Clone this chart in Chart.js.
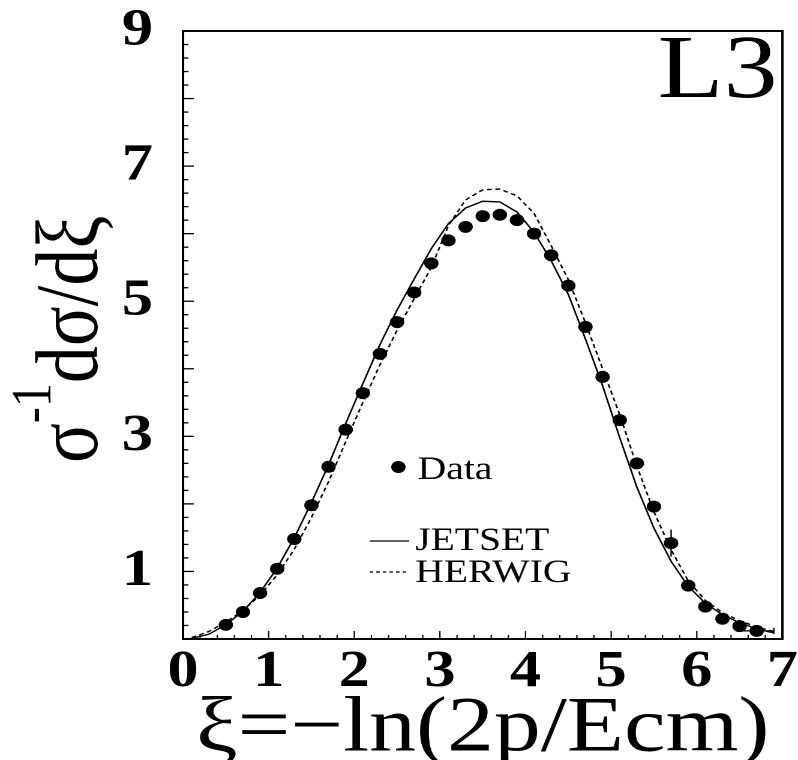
<!DOCTYPE html>
<html>
<head>
<meta charset="utf-8">
<script src="https://cdn.jsdelivr.net/npm/chart.js@4.4.1/dist/chart.umd.min.js"></script>
<style>
  html, body { margin: 0; padding: 0; background: #fff; overflow: hidden; }
  /* the plot is drawn 665 wide and widened to the page width */
  #wrap { width: 665px; height: 760px; transform: scaleX(1.2); transform-origin: 0 0; }
</style>
</head>
<body>
<div id="wrap"><canvas id="xi-chart" width="665" height="760"></canvas></div>
<script>
// measured xi distribution
const dataXi = [0.5, 0.7, 0.9, 1.1, 1.3, 1.5, 1.7, 1.9, 2.1, 2.3, 2.5, 2.7, 2.9, 3.1, 3.3, 3.5,
    3.7, 3.9, 4.1, 4.3, 4.5, 4.7, 4.9, 5.1, 5.3, 5.5, 5.7, 5.9, 6.1, 6.3, 6.5, 6.7];
const dataValues = [0.21, 0.40, 0.68, 1.04, 1.48, 1.98, 2.55, 3.10, 3.64, 4.22, 4.69, 5.13, 5.56, 5.90, 6.10, 6.26,
    6.28, 6.20, 6.00, 5.68, 5.23, 4.62, 3.88, 3.24, 2.60, 1.96, 1.42, 0.79, 0.48, 0.30, 0.19, 0.12];
// errors large enough to show outside the markers
const dataErrY = [0, 0, 0, 0, 0, 0, 0, 0, 0, 0, 0, 0, 0, 0, 0, 0,
    0, 0, 0, 0, 0, 0, 0, 0, 0, 0, 0.2, 0, 0, 0, 0, 0];
const dataErrX = [0, 0, 0, 0, 0, 0, 0, 0, 0, 0, 0, 0, 0, 0, 0, 0,
    0, 0, 0, 0, 0, 0, 0, 0, 0, 0, 0, 0, 0, 0, 0, 0.2];

// Monte Carlo predictions
const modelXi = [0.1, 0.3, 0.5, 0.7, 0.9, 1.1, 1.3, 1.5, 1.7, 1.9, 2.1, 2.3, 2.5, 2.7, 2.9, 3.1, 3.3, 3.5,
    3.7, 3.9, 4.1, 4.3, 4.5, 4.7, 4.9, 5.1, 5.3, 5.5, 5.7, 5.9, 6.1, 6.3, 6.5, 6.7, 6.9];
const jetsetValues = [0.01, 0.07, 0.21, 0.41, 0.69, 1.05, 1.50, 2.02, 2.58, 3.19, 3.78, 4.36, 4.87, 5.33, 5.78, 6.15, 6.38, 6.48,
    6.47, 6.32, 6.02, 5.60, 5.10, 4.44, 3.75, 2.98, 2.25, 1.64, 1.15, 0.78, 0.53, 0.36, 0.24, 0.15, 0.09];
const herwigValues = [0.02, 0.11, 0.25, 0.42, 0.65, 0.95, 1.33, 1.80, 2.33, 2.92, 3.50, 4.06, 4.57, 5.04, 5.50, 6.12, 6.50, 6.65,
    6.66, 6.56, 6.30, 5.82, 5.32, 4.68, 4.00, 3.32, 2.56, 1.88, 1.32, 0.86, 0.57, 0.39, 0.27, 0.18, 0.11];

const xLabels = [0, 1, 2, 3, 4, 5, 6, 7];
const yLabels = [1, 3, 5, 7, 9];

const SERIF = "'Liberation Serif', 'Times New Roman', serif";

const toPoints = (xs, ys) => xs.map((x, i) => ({ x: x, y: ys[i] }));
const isWhole = (v) => Math.abs(v - Math.round(v)) < 1e-6;
const labelFor = (list) => (v) => {
    if (!isWhole(v)) return "";
    const n = Math.round(v);
    return list.includes(n) ? String(n) : "";
};

// box around the plot and the inward tick marks
const frameTicks = {
    id: "frameTicks",
    afterDatasetsDraw(chart) {
        const { ctx, chartArea: a, scales } = chart;
        ctx.save();
        ctx.strokeStyle = "#000";
        ctx.lineWidth = 1.3;
        scales.y.ticks.forEach((t) => {
            const py = scales.y.getPixelForValue(t.value);
            const len = isWhole(t.value) ? 9 : 4.5;
            ctx.beginPath();
            ctx.moveTo(a.left, py);
            ctx.lineTo(a.left + len, py);
            ctx.stroke();
        });
        ctx.lineWidth = 1.1;
        scales.x.ticks.forEach((t) => {
            const px = scales.x.getPixelForValue(t.value);
            const len = isWhole(t.value) ? 8 : 4;
            ctx.beginPath();
            ctx.moveTo(px, a.bottom);
            ctx.lineTo(px, a.bottom - len);
            ctx.stroke();
        });
        ctx.lineWidth = 2;
        ctx.strokeRect(a.left, a.top, a.right - a.left, a.bottom - a.top);
        ctx.restore();
    },
};

// error bars on the data points
const errorBars = {
    id: "errorBars",
    afterDatasetsDraw(chart) {
        const { ctx, scales } = chart;
        const sx = scales.x;
        const sy = scales.y;
        ctx.save();
        ctx.strokeStyle = "#000";
        ctx.lineWidth = 1.2;
        dataXi.forEach((x, i) => {
            const y = dataValues[i];
            if (dataErrY[i] > 0) {
                ctx.beginPath();
                ctx.moveTo(sx.getPixelForValue(x), sy.getPixelForValue(y - dataErrY[i]));
                ctx.lineTo(sx.getPixelForValue(x), sy.getPixelForValue(y + dataErrY[i]));
                ctx.stroke();
            }
            if (dataErrX[i] > 0) {
                const py = sy.getPixelForValue(y);
                const x1 = sx.getPixelForValue(x + dataErrX[i]);
                ctx.beginPath();
                ctx.moveTo(sx.getPixelForValue(x - dataErrX[i]), py);
                ctx.lineTo(x1, py);
                ctx.moveTo(x1, py - 3);
                ctx.lineTo(x1, py + 3);
                ctx.stroke();
            }
        });
        ctx.restore();
    },
};

// experiment tag, legend and the rotated y title
const annotations = {
    id: "annotations",
    afterDraw(chart) {
        const { ctx } = chart;
        ctx.save();
        ctx.fillStyle = "#000";
        ctx.strokeStyle = "#000";
        ctx.textBaseline = "alphabetic";

        ctx.font = `90px ${SERIF}`;
        ctx.textAlign = "right";
        ctx.fillText("L3", 648, 97);

        ctx.textAlign = "left";
        ctx.font = `33px ${SERIF}`;
        ctx.beginPath();
        ctx.arc(332, 467, 6, 0, Math.PI * 2);
        ctx.fill();
        ctx.fillText("Data", 348, 479);

        ctx.lineWidth = 1.2;
        ctx.beginPath();
        ctx.moveTo(308, 541);
        ctx.lineTo(341, 541);
        ctx.stroke();
        ctx.fillText("JETSET", 346, 550);

        ctx.setLineDash([3, 2.5]);
        ctx.beginPath();
        ctx.moveTo(308, 572);
        ctx.lineTo(341, 572);
        ctx.stroke();
        ctx.setLineDash([]);
        ctx.fillText("HERWIG", 346, 582);

        ctx.translate(81, 463);
        ctx.rotate(-Math.PI / 2);
        ctx.font = `74px ${SERIF}`;
        ctx.fillText("σ", 0, 0);
        let w = ctx.measureText("σ").width;
        ctx.font = `48px ${SERIF}`;
        ctx.fillText("-1", w, -39);
        w += ctx.measureText("-1").width;
        ctx.font = `74px ${SERIF}`;
        ctx.fillText("dσ/dξ", w, 0);
        ctx.restore();
    },
};

const chart = new Chart(document.getElementById("xi-chart"), {
    type: "scatter",
    data: {
        datasets: [
            {
                label: "Data",
                data: toPoints(dataXi, dataValues),
                showLine: false,
                pointRadius: 6,
                pointBackgroundColor: "#000",
                pointBorderColor: "#000",
                pointBorderWidth: 0,
            },
            {
                label: "JETSET",
                data: toPoints(modelXi, jetsetValues),
                showLine: true,
                borderColor: "#000",
                borderWidth: 1.4,
                tension: 0,
                pointRadius: 0,
            },
            {
                label: "HERWIG",
                data: toPoints(modelXi, herwigValues),
                showLine: true,
                borderColor: "#000",
                borderWidth: 1.4,
                borderDash: [4, 3],
                tension: 0,
                pointRadius: 0,
            },
        ],
    },
    options: {
        responsive: false,
        devicePixelRatio: 2,
        animation: false,
        layout: { padding: { top: 31, right: 13, bottom: 0, left: 0 } },
        plugins: {
            legend: { display: false },
            tooltip: { enabled: false },
        },
        scales: {
            x: {
                type: "linear",
                min: 0,
                max: 7,
                grid: { display: false, drawTicks: false },
                border: { display: false },
                ticks: {
                    stepSize: 0.2,
                    autoSkip: false,
                    maxRotation: 0,
                    padding: 0,
                    color: "#000",
                    // line height sets the gap below the axis
                    font: { family: SERIF, size: 52, weight: "bold", lineHeight: 1.29 },
                    callback: labelFor(xLabels),
                },
                title: {
                    display: true,
                    text: "ξ=−ln(2p/Ecm)",
                    color: "#000",
                    font: { family: SERIF, size: 78, lineHeight: 1 },
                    padding: { top: 0, bottom: -9 },
                },
                afterFit: (scale) => {
                    scale.height = 121;
                },
            },
            y: {
                type: "linear",
                min: 0,
                max: 9,
                grid: { display: false, drawTicks: false },
                border: { display: false },
                ticks: {
                    stepSize: 0.2,
                    autoSkip: false,
                    padding: 25,
                    color: "#000",
                    font: { family: SERIF, size: 52, weight: "bold", lineHeight: 0.2 },
                    callback: labelFor(yLabels),
                },
                afterFit: (scale) => {
                    scale.width = 152.5;
                },
            },
        },
    },
    plugins: [frameTicks, errorBars, annotations],
});
</script>
</body>
</html>
